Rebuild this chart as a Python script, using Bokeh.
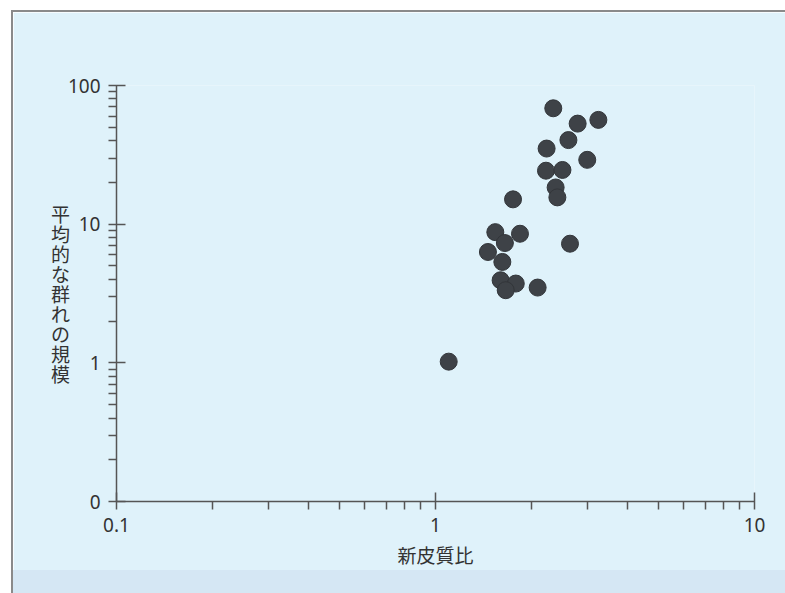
from bokeh.plotting import figure
from bokeh.models import Range1d, FixedTicker, Div
from bokeh.layouts import column
from bokeh.embed import file_html
from bokeh.resources import INLINE

# Data (neocortex ratio vs. mean group size)
neocortex_ratio = [2.34, 2.79, 3.24, 2.61, 2.23, 2.99, 2.22, 2.50, 2.38, 2.41, 1.75,
                   2.64, 1.54, 1.84, 1.65, 1.46, 1.62, 1.60, 1.785, 1.66, 2.09, 1.10]
group_size = [68.5, 53.1, 56.5, 40.4, 35.1, 29.1, 24.3, 24.6, 18.4, 15.6, 15.1,
              7.23, 8.76, 8.53, 7.31, 6.30, 5.34, 3.94, 3.73, 3.34, 3.49, 1.02]

x_ticks = [0.1, 1, 10]
x_tick_labels = ["0.1", "1", "10"]
y_ticks = [0.1, 1, 10, 100]
y_tick_labels = ["0", "1", "10", "100"]

x_label = "新皮質比"
y_label = "平均的な群れの規模"

BG = "#DFF2FA"
AXIS = "#555555"
TEXT = "#333333"

W, H = 772, 558
p = figure(width=W, height=H,
           x_axis_type="log", y_axis_type="log",
           x_range=Range1d(0.1, 10), y_range=Range1d(0.1, 100),
           output_backend="svg", toolbar_location=None,
           min_border_left=103, min_border_right=31,
           min_border_top=73, min_border_bottom=67)

p.background_fill_color = BG
p.border_fill_color = BG
p.outline_line_color = None
p.grid.visible = False

x_minor = [m * 10.0 ** e for e in range(-1, 1) for m in range(2, 10)]
y_minor = [m * 10.0 ** e for e in range(-1, 2) for m in range(2, 10)]

p.xaxis.ticker = FixedTicker(ticks=x_ticks, minor_ticks=x_minor)
p.yaxis.ticker = FixedTicker(ticks=y_ticks, minor_ticks=y_minor)
p.xaxis.major_label_overrides = {float(t): l for t, l in zip(x_ticks, x_tick_labels)}
p.yaxis.major_label_overrides = {float(t): l for t, l in zip(y_ticks, y_tick_labels)}

for ax in (p.xaxis, p.yaxis):
    ax.axis_line_color = AXIS
    ax.axis_line_width = 1.5
    ax.major_tick_line_color = AXIS
    ax.major_tick_line_width = 1.5
    ax.minor_tick_line_color = AXIS
    ax.minor_tick_line_width = 1.5
    ax.major_tick_out = 8
    ax.major_tick_in = 9
    ax.minor_tick_out = 8
    ax.minor_tick_in = 0
    ax.major_label_text_font = "Noto Sans"
    ax.major_label_text_font_size = "19px"
    ax.major_label_text_color = TEXT
    ax.major_label_standoff = 8
    ax.axis_label_text_font = "Noto Sans CJK JP"
    ax.axis_label_text_font_style = "normal"
    ax.axis_label_text_color = TEXT

p.xaxis.axis_label = x_label
p.xaxis.axis_label_text_font_size = "19px"
p.xaxis.axis_label_standoff = 6

p.yaxis.axis_label = "\n".join(y_label)
p.yaxis.axis_label_orientation = "horizontal"
p.yaxis.axis_label_text_font_size = "19px"
p.yaxis.axis_label_text_line_height = 0.745
p.yaxis.axis_label_standoff = -5

p.scatter(neocortex_ratio, group_size, size=17,
          fill_color="#3e4247", line_color="#33363a", line_width=1)

band = Div(width=W, height=23, margin=(0, 0, 0, 0),
           styles={"background-color": "#D5E7F4"})

layout = column(p, band, spacing=0,
                styles={"border-left": "2px solid #8a8a8a",
                        "border-top": "2px solid #8a8a8a",
                        "margin-left": "11px", "margin-top": "10px"})

open("out.html", "w").write(file_html(layout, INLINE))
